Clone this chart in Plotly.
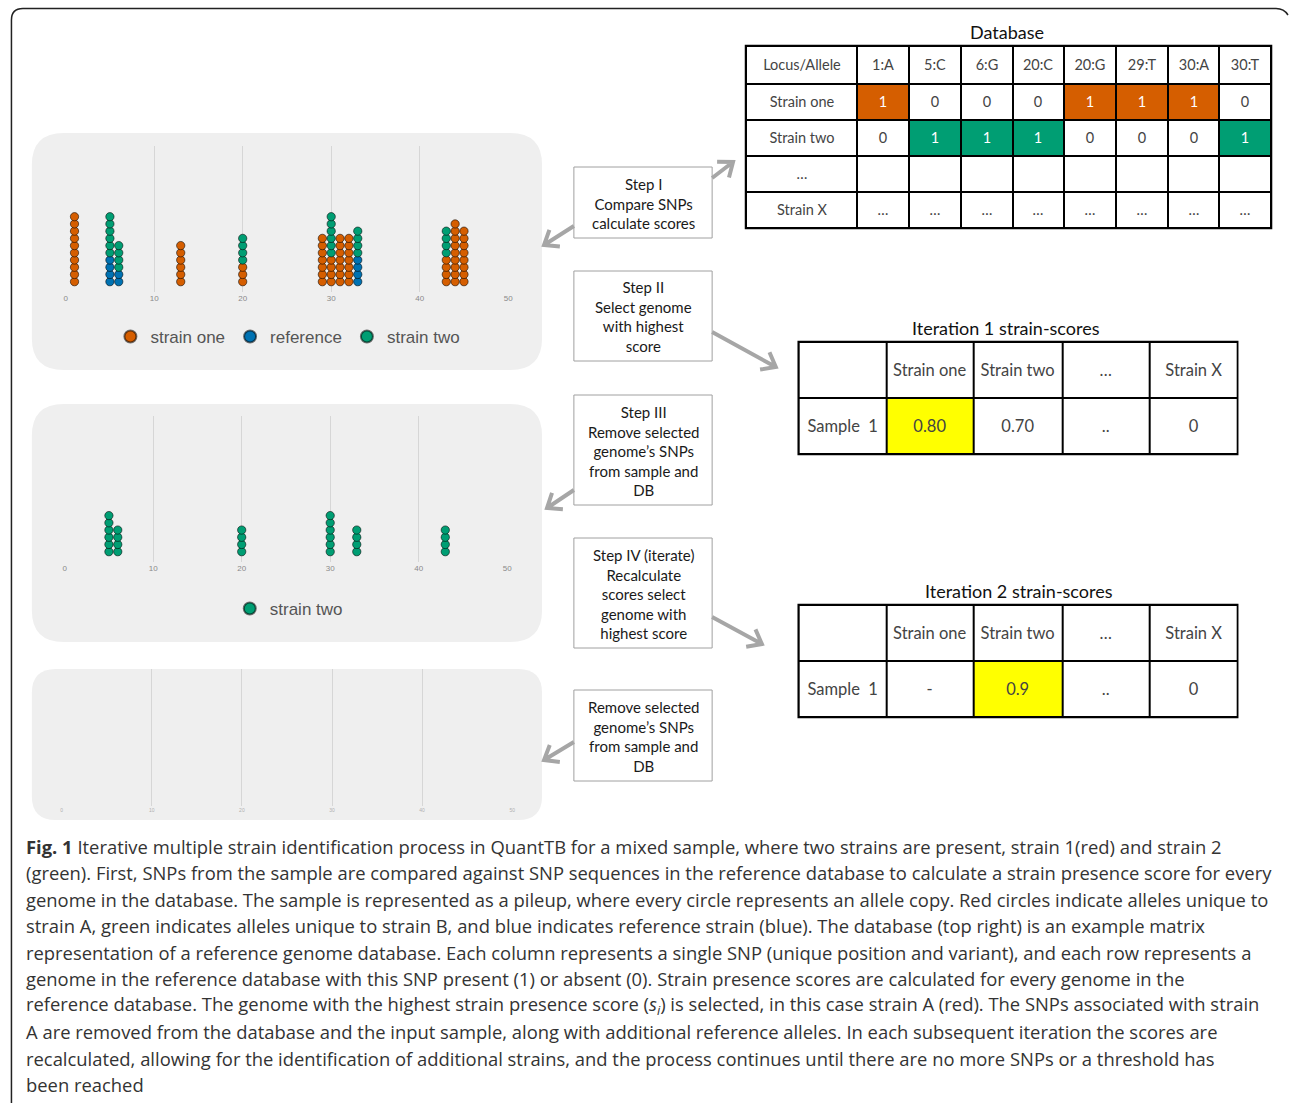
import math
import plotly.graph_objects as go

W, H = 1292, 1103

# ---------------- data ----------------
pile_positions = [1, 5, 6, 13, 20, 29, 30, 31, 32, 33, 43, 44, 45]
reference_counts = [0, 4, 2, 0, 0, 0, 0, 0, 0, 4, 0, 0, 0]
strain_one_counts = [10, 0, 0, 6, 3, 7, 4, 7, 7, 0, 4, 9, 8]
strain_two_counts = [0, 6, 4, 0, 4, 0, 6, 0, 0, 4, 4, 0, 0]
axis_ticks = [0, 10, 20, 30, 40, 50]

db_loci = ["1:A", "5:C", "6:G", "20:C", "20:G", "29:T", "30:A", "30:T"]
db_strain_one = [1, 0, 0, 0, 1, 1, 1, 0]
db_strain_two = [0, 1, 1, 1, 0, 0, 0, 1]

score_strains = ["Strain one", "Strain two", "…", "Strain X"]
iter1_scores = ["0.80", "0.70", "..", "0"]
iter2_scores = ["-", "0.9", "..", "0"]

step_texts = [
    "Step I<br>Compare SNPs<br>calculate scores",
    "Step II<br>Select genome<br>with highest<br>score",
    "Step III<br>Remove selected<br>genome’s SNPs<br>from sample and<br>DB",
    "Step IV (iterate)<br>Recalculate<br>scores select<br>genome with<br>highest score",
    "Remove selected<br>genome’s SNPs<br>from sample and<br>DB",
]

caption_lines = [
    "<b>Fig. 1</b> Iterative multiple strain identification process in QuantTB for a mixed sample, where two strains are present, strain 1(red) and strain 2",
    "(green). First, SNPs from the sample are compared against SNP sequences in the reference database to calculate a strain presence score for every",
    "genome in the database. The sample is represented as a pileup, where every circle represents an allele copy. Red circles indicate alleles unique to",
    "strain A, green indicates alleles unique to strain B, and blue indicates reference strain (blue). The database (top right) is an example matrix",
    "representation of a reference genome database. Each column represents a single SNP (unique position and variant), and each row represents a",
    "genome in the reference database with this SNP present (1) or absent (0). Strain presence scores are calculated for every genome in the",
    "reference database. The genome with the highest strain presence score (<i>s<sub>i</sub></i>) is selected, in this case strain A (red). The SNPs associated with strain",
    "A are removed from the database and the input sample, along with additional reference alleles. In each subsequent iteration the scores are",
    "recalculated, allowing for the identification of additional strains, and the process continues until there are no more SNPs or a threshold has",
    "been reached",
]

# ---------------- styles ----------------
ORANGE = "#d55e00"
BLUE = "#0072b2"
GREEN = "#009e73"
YELLOW = "#ffff00"
PANEL_BG = "#efefef"
ARROW = "#a6a6a6"
TFONT = "Lato"


def px(x):
    return x / W


def py(y):
    return 1 - y / H


fig = go.Figure()

# ---------------- pileups ----------------
def stack(series, counts_list):
    out = []
    base = [0] * len(pile_positions)
    for (name, color), counts in zip(series, counts_list):
        xs, ys = [], []
        for i, (p, c) in enumerate(zip(pile_positions, counts)):
            for k in range(c):
                xs.append(p)
                ys.append(base[i] + k + 1)
            base[i] += c
        out.append((name, color, xs, ys))
    return out


rank = {"strain one": 1, "reference": 2, "strain two": 3}
p1 = stack([("reference", BLUE), ("strain one", ORANGE), ("strain two", GREEN)],
           [reference_counts, strain_one_counts, strain_two_counts])
for name, color, xs, ys in p1:
    fig.add_trace(go.Scatter(
        x=xs, y=ys, mode="markers", name=name, legendrank=rank[name],
        marker=dict(size=8.3, color=color, line=dict(width=1, color="rgba(0,0,0,0.55)")),
        xaxis="x", yaxis="y", hoverinfo="skip", legend="legend"))

p2 = stack([("strain two", GREEN)], [strain_two_counts])
for name, color, xs, ys in p2:
    fig.add_trace(go.Scatter(
        x=xs, y=ys, mode="markers", name=name,
        marker=dict(size=8.3, color=color, line=dict(width=1, color="rgba(0,0,0,0.55)")),
        xaxis="x2", yaxis="y2", hoverinfo="skip", legend="legend2"))

fig.add_trace(go.Scatter(x=[], y=[], mode="markers", xaxis="x3", yaxis="y3",
                         showlegend=False, hoverinfo="skip"))

DOT_STEP = 7.22
YR = [1 - 10 / DOT_STEP, 1 - 10 / DOT_STEP + 145.7 / DOT_STEP]


def pile_x(left, right, fs, col):
    return dict(domain=[px(left), px(right)], range=[0, 50], tickvals=axis_ticks,
                showgrid=True, gridcolor="#d6d6d6", gridwidth=1, zeroline=False,
                showline=False, ticks="", tickfont=dict(size=fs, color=col, family="Liberation Sans"),
                fixedrange=True)


def pile_y(top, bottom):
    return dict(domain=[py(bottom), py(top)], range=YR, visible=False, fixedrange=True)


layout_axes = {}
layout_axes["xaxis"] = dict(pile_x(64, 509, 8, "#8a8a8a"), anchor="y")
layout_axes["yaxis"] = dict(pile_y(146, 291.7), anchor="x")
layout_axes["xaxis2"] = dict(pile_x(63, 508, 8, "#8a8a8a"), anchor="y2")
layout_axes["yaxis2"] = dict(pile_y(416, 561.7), anchor="x2")
layout_axes["xaxis3"] = dict(pile_x(60, 513, 5, "#b0b0b0"), anchor="y3")
layout_axes["yaxis3"] = dict(domain=[py(806), py(669)], range=[0, 1], visible=False, fixedrange=True, anchor="x3")

# ---------------- tables (heatmaps) ----------------
colorscale = [[0, "white"], [1 / 6, "white"], [1 / 6, ORANGE], [0.5, ORANGE],
              [0.5, GREEN], [5 / 6, GREEN], [5 / 6, YELLOW], [1, YELLOW]]

shapes = []


def add_table(idx, cells, codes, left, top, col_w, row_h, fsize):
    xe = [0]
    for w in col_w:
        xe.append(xe[-1] + w)
    ye = [0]
    for h in row_h:
        ye.append(ye[-1] + h)
    tw, th = xe[-1], ye[-1]
    fig.add_trace(go.Heatmap(
        x=xe, y=ye, z=codes, text=cells, texttemplate="%{text}",
        textfont=dict(family=TFONT, size=fsize),
        colorscale=colorscale, zmin=0, zmax=3, showscale=False,
        xgap=2, ygap=2, hoverinfo="skip",
        xaxis=f"x{idx}", yaxis=f"y{idx}"))
    layout_axes[f"xaxis{idx}"] = dict(domain=[px(left - 2), px(left + tw + 2)], range=[-2, tw + 2],
                                      visible=False, fixedrange=True, anchor=f"y{idx}")
    layout_axes[f"yaxis{idx}"] = dict(domain=[py(top + th + 2), py(top - 2)], range=[th + 2, -2],
                                      visible=False, fixedrange=True, anchor=f"x{idx}")
    shapes.append(dict(type="rect", xref=f"x{idx}", yref=f"y{idx}", x0=-1.2, x1=tw + 1.2,
                       y0=-1.2, y1=th + 1.2, fillcolor="black", line=dict(width=0), layer="below"))


db_cells = [["Locus/Allele"] + db_loci,
            ["Strain one"] + [str(v) for v in db_strain_one],
            ["Strain two"] + [str(v) for v in db_strain_two],
            ["…"] + [" "] * len(db_loci),
            ["Strain X"] + ["…"] * len(db_loci)]
db_codes = [[0] * (len(db_loci) + 1),
            [0] + [1 if v else 0 for v in db_strain_one],
            [0] + [2 if v else 0 for v in db_strain_two],
            [0] * (len(db_loci) + 1),
            [0] * (len(db_loci) + 1)]
add_table(4, db_cells, db_codes, 748, 46, [112] + [52] * len(db_loci), [38, 36, 36, 36, 36], 14.5)


def score_codes(scores):
    vals = []
    for s in scores:
        try:
            vals.append(float(s))
        except ValueError:
            vals.append(float("-inf"))
    best = vals.index(max(vals))
    return [0] + [3 if i == best else 0 for i in range(len(scores))]


for idx, scores, top in [(5, iter1_scores, 342), (6, iter2_scores, 605)]:
    cells = [[" "] + score_strains, ["Sample\u00a0 1"] + scores]
    codes = [[0] * (len(score_strains) + 1), score_codes(scores)]
    add_table(idx, cells, codes, 801, top, [88, 88, 89, 88, 88], [56, 56], 16.5)

# ---------------- decorations ----------------
def rrect(x0, y0, x1, y1, r):
    return (f"M {px(x0 + r)},{py(y0)} L {px(x1 - r)},{py(y0)} Q {px(x1)},{py(y0)} {px(x1)},{py(y0 + r)} "
            f"L {px(x1)},{py(y1 - r)} Q {px(x1)},{py(y1)} {px(x1 - r)},{py(y1)} "
            f"L {px(x0 + r)},{py(y1)} Q {px(x0)},{py(y1)} {px(x0)},{py(y1 - r)} "
            f"L {px(x0)},{py(y0 + r)} Q {px(x0)},{py(y0)} {px(x0 + r)},{py(y0)} Z")


for (x0, y0, x1, y1, r) in [(30, 133, 543, 370, 32), (30, 404, 543, 642, 32), (30, 669, 543, 820, 24)]:
    shapes.append(dict(type="path", xref="paper", yref="paper", path=rrect(x0, y0, x1, y1, r),
                       fillcolor=PANEL_BG, line=dict(width=0), layer="below"))

# outer frame
shapes.append(dict(type="path", xref="paper", yref="paper",
                   path=f"M {px(9.5)},{py(1104)} L {px(9.5)},{py(20)} Q {px(9.5)},{py(8.5)} {px(21)},{py(8.5)} "
                        f"L {px(1281)},{py(8.5)} Q {px(1289)},{py(8.5)} {px(1293)},{py(15)}",
                   line=dict(color="#222222", width=1.5)))

annotations = []
boxes = [(575, 167, 714, 238), (575, 271, 714, 361), (575, 395, 714, 505),
         (575, 538, 714, 648), (575, 690, 714, 781)]
for (x0, y0, x1, y1), txt in zip(boxes, step_texts):
    shapes.append(dict(type="rect", xref="paper", yref="paper", x0=px(x0), x1=px(x1), y0=py(y1), y1=py(y0),
                       line=dict(color="#a0a0a0", width=1), fillcolor="white"))
    annotations.append(dict(xref="paper", yref="paper", x=px((x0 + x1) / 2), y=py((y0 + y1) / 2 + 1),
                            xanchor="center", yanchor="middle",
                            text=txt, showarrow=False, align="center",
                            font=dict(family=TFONT, size=15, color="#1a1a1a")))

# arrows with open chevron heads: (tail_x, tail_y, head_x, head_y)
arrows = [(575, 226, 545, 245), (714, 178, 735, 162), (714, 332, 778, 367),
          (575, 490, 548, 508), (714, 617, 764, 644), (575, 742, 545, 760)]
ARM = 16
SPREAD = math.radians(38)
for tx, ty, hx, hy in arrows:
    ang = math.atan2(ty - hy, tx - hx)  # direction from head back to tail
    a1 = (hx + ARM * math.cos(ang + SPREAD), hy + ARM * math.sin(ang + SPREAD))
    a2 = (hx + ARM * math.cos(ang - SPREAD), hy + ARM * math.sin(ang - SPREAD))
    path = (f"M {px(tx)},{py(ty)} L {px(hx)},{py(hy)} "
            f"M {px(a1[0])},{py(a1[1])} L {px(hx)},{py(hy)} L {px(a2[0])},{py(a2[1])}")
    shapes.append(dict(type="path", xref="paper", yref="paper", path=path,
                       line=dict(color=ARROW, width=4)))

# table titles
for x, y, t in [(1010, 32, "Database"), (1009, 328, "Iteration 1 strain-scores"),
                (1023, 591, "Iteration 2 strain-scores")]:
    annotations.append(dict(xref="paper", yref="paper", x=px(x), y=py(y), text=t, showarrow=False,
                            xanchor="center", yanchor="middle",
                            font=dict(family=TFONT, size=18, color="#111111")))

# caption
cap_y = [846, 872, 899, 925, 952, 978, 1005, 1031, 1058, 1084]
for y, line in zip(cap_y, caption_lines):
    annotations.append(dict(xref="paper", yref="paper", x=px(22), y=py(y), xanchor="left", yanchor="middle",
                            text=line, showarrow=False, align="left",
                            font=dict(family="Open Sans", size=18.4, color="#333333")))

fig.update_layout(
    width=W, height=H, margin=dict(l=0, r=0, t=0, b=0),
    paper_bgcolor="white", plot_bgcolor="rgba(0,0,0,0)",
    shapes=shapes, annotations=annotations,
    legend=dict(orientation="h", x=px(109), y=py(337), xanchor="left", yanchor="middle",
                font=dict(family="Liberation Sans", size=17, color="#555555"),
                bgcolor="rgba(0,0,0,0)", itemsizing="constant", traceorder="normal"),
    legend2=dict(orientation="h", x=px(229), y=py(609), xanchor="left", yanchor="middle",
                 font=dict(family="Liberation Sans", size=17, color="#555555"),
                 bgcolor="rgba(0,0,0,0)", itemsizing="constant"),
    **layout_axes,
)

fig.write_html("out.html", config={"displayModeBar": False},
               post_script="document.body.style.margin='0';document.body.style.overflow='hidden';")
